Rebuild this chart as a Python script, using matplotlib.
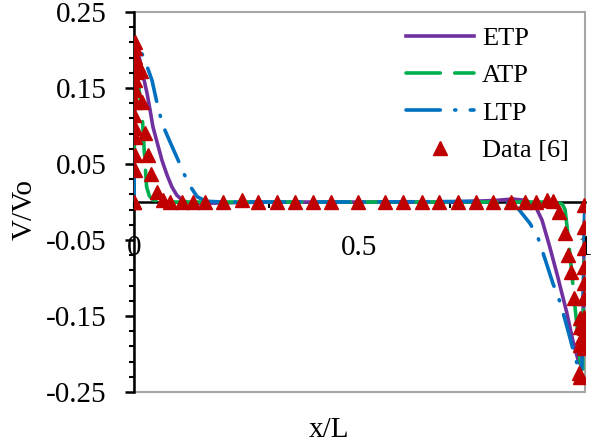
import matplotlib
matplotlib.use("Agg")
import matplotlib.pyplot as plt
from matplotlib.patches import Rectangle
from matplotlib.ticker import MultipleLocator, FixedLocator

plt.rcParams['font.family'] = ['Liberation Serif', 'DejaVu Serif']

# ETP curve
etp_x = [0, 0.002, 0.006, 0.013, 0.020, 0.029, 0.036, 0.042, 0.052, 0.062, 0.073, 0.084,
         0.095, 0.106, 0.12, 0.14, 0.2, 0.3, 0.5, 0.7, 0.8, 0.84, 0.87, 0.889, 0.905,
         0.922, 0.940, 0.960, 0.973, 0.985, 0.994, 1.0]
etp_y = [0, 0.21, 0.205, 0.187, 0.167, 0.143, 0.12, 0.099, 0.077, 0.055, 0.036, 0.020,
         0.009, 0.003, -0.001, -0.002, -0.001, 0, 0, 0, 0.002, 0.004, 0.002, -0.004, -0.024,
         -0.059, -0.099, -0.146, -0.182, -0.208, -0.218, 0]

# ATP curve
atp_x = [0, 0.002, 0.005, 0.009, 0.013, 0.017, 0.020, 0.024, 0.028, 0.034, 0.042, 0.06,
         0.5, 0.94, 0.95, 0.956, 0.963, 0.971, 0.978, 0.985, 0.989, 0.995, 1.0]
atp_y = [0, 0.213, 0.195, 0.16, 0.14, 0.125, 0.095, 0.055, 0.02, 0.008, 0.003, 0,
         0, 0, -0.003, -0.01, -0.046, -0.094, -0.138, -0.178, -0.208, -0.22, 0]

# LTP curve
ltp_x = [0, 0.002, 0.010, 0.024, 0.040, 0.053, 0.064, 0.080, 0.098, 0.12, 0.14, 0.16,
         0.2, 0.5, 0.8, 0.83, 0.851, 0.878, 0.896, 0.911, 0.929, 0.945, 0.956, 0.967,
         0.978, 0.985, 0.993, 1.0]
ltp_y = [0, 0.213, 0.205, 0.187, 0.16, 0.125, 0.101, 0.079, 0.055, 0.025, 0.007, 0.001,
         0, 0, 0.001, -0.002, -0.008, -0.028, -0.047, -0.074, -0.107, -0.132, -0.155, -0.179,
         -0.204, -0.217, -0.224, 0]

# Data [6]
data_x = [0.002, 0.002, 0.003, 0.002, 0.004, 0.002, 0.003, 0.002, 0.001, 0.002, 0.003,
          0.002, 0.002, 0.001, 0.0,
          0.010, 0.015, 0.013, 0.017, 0.025, 0.031, 0.038, 0.051, 0.064,
          0.080, 0.106, 0.131, 0.157, 0.197, 0.239, 0.275, 0.317, 0.357, 0.397, 0.437,
          0.497, 0.557, 0.596, 0.638, 0.676, 0.718, 0.758, 0.796, 0.836, 0.867, 0.891,
          0.915, 0.929,
          0.942, 0.956, 0.962, 0.969, 0.976, 0.989, 0.989, 0.993, 0.989, 0.987, 0.988,
          0.998, 0.998, 0.998, 0.998, 0.998, 0.998, 0.998, 0.998, 0.998, 0.998, 0.998]
data_y = [0.21, 0.203, 0.191, 0.178, 0.171, 0.161, 0.147, 0.132, 0.114, 0.097, 0.086,
          0.062, 0.042, 0.0, 0.0,
          0.18, 0.172, 0.174, 0.132, 0.091, 0.062, 0.037, 0.013, 0.003,
          0.0, 0.0, 0.0, 0.0, 0.0, 0.003, 0.0, 0.0, 0.0, 0.0, 0.0,
          0.0, 0.0, 0.0, 0.0, 0.0, 0.0, 0.0, 0.0, 0.0, 0.0, 0.0,
          0.003, 0.002,
          -0.013, -0.041, -0.070, -0.092, -0.126, -0.153, -0.164, -0.178, -0.188, -0.225, -0.23,
          -0.004, -0.033, -0.061, -0.086, -0.107, -0.126, -0.151, -0.166, -0.178, -0.186, -0.192]

fig = plt.figure(figsize=(5.91, 4.46), dpi=100)
ax = fig.add_axes([0.2267, 0.121, 0.763, 0.852])

ax.plot(etp_x, etp_y, color='#7030A0', lw=2.6, label='ETP', zorder=3)
ax.plot(atp_x, atp_y, color='#00B050', lw=2.6, dashes=(9.5, 4), dash_capstyle='round',
        label='ATP', zorder=3)
ax.plot(ltp_x, ltp_y, color='#0070C0', lw=2.6, dashes=(9.5, 4, 0.3, 4),
        dash_capstyle='round', label='LTP', zorder=3)
ax.plot(data_x, data_y, '^', color='#C00000', ms=10, ls='none', label='Data [6]', zorder=4)

ax.set_xlim(0, 1)
ax.set_ylim(-0.25, 0.25)

ax.spines['top'].set_visible(False)
ax.spines['right'].set_visible(False)
ax.spines['bottom'].set_position(('data', 0))
ax.spines['left'].set_linewidth(1.8)
ax.spines['bottom'].set_linewidth(1.8)
ax.add_patch(Rectangle((0, 0), 1, 1, transform=ax.transAxes, fill=False,
                       edgecolor='#a6a6a6', lw=1.5, zorder=0.5, clip_on=False))
ax.set_axisbelow(True)

ax.yaxis.set_major_locator(FixedLocator([-0.25, -0.15, -0.05, 0.05, 0.15, 0.25]))
ax.yaxis.set_minor_locator(FixedLocator([-0.25 + 0.02 * i for i in range(26)]))
ax.set_yticklabels(['-0.25', '-0.15', '-0.05', '0.05', '0.15', '0.25'])
ax.xaxis.set_major_locator(FixedLocator([0, 0.5, 1]))
ax.xaxis.set_minor_locator(MultipleLocator(0.1))
ax.set_xticklabels(['0', '0.5', '1'])

ax.tick_params(axis='y', which='major', direction='out', length=6.5, width=1.8, labelsize=21, pad=13)
ax.tick_params(axis='y', which='minor', direction='out', length=3.6, width=1.5)
ax.tick_params(axis='x', which='major', direction='out', length=4, width=1.5, labelsize=21, pad=20)
ax.tick_params(axis='x', which='minor', direction='out', length=4, width=1.5)

ax.set_xlabel('x/L', fontsize=21)
ax.xaxis.set_label_coords(0.432, -0.065)
ax.set_ylabel('V/Vo', fontsize=21)
ax.yaxis.set_label_coords(-0.213, 0.48)

ax.legend(loc='upper right', bbox_to_anchor=(1.0, 1.003), frameon=False, fontsize=19,
          handlelength=2.6, handletextpad=0.3, labelspacing=0.52, borderaxespad=0.2)

fig.savefig('out.png', dpi=100)
